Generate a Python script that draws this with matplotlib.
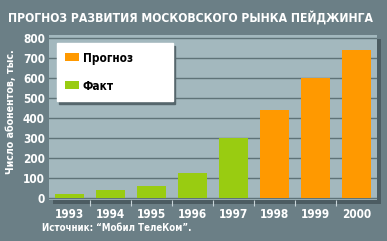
import matplotlib
matplotlib.use("Agg")
import matplotlib.pyplot as plt
from matplotlib.patches import Rectangle, Patch
from matplotlib import font_manager as fm
from matplotlib.ft2font import FT2Font

years = ["1993", "1994", "1995", "1996", "1997", "1998", "1999", "2000"]
values = [20, 40, 60, 125, 300, 440, 600, 740]
kinds = ["Факт", "Факт", "Факт", "Факт", "Факт", "Прогноз", "Прогноз", "Прогноз"]
yticks = [0, 100, 200, 300, 400, 500, 600, 700, 800]
title = "ПРОГНОЗ РАЗВИТИЯ МОСКОВСКОГО РЫНКА ПЕЙДЖИНГА"
ylabel = "Число абонентов, тыс."
source = "Источник: “Мобил ТелеКом”."

colors = {"Прогноз": "#ff9900", "Факт": "#99cc11"}
BG = "#6b7f86"
PLOT_BG = "#a3b8be"
GRID = "#5f7378"


def has_cyrillic(path):
    try:
        cm = FT2Font(path).get_charmap()
        return all(ord(c) in cm for c in "ЖПЙФ")
    except Exception:
        return False


# look for a narrow / condensed family with Cyrillic glyphs, if any is installed
narrow, stretch = "DejaVu Sans", "normal"
for f in fm.fontManager.ttflist:
    st = f.stretch
    cond = ("Narrow" in f.name or "Condensed" in f.name or
            str(st) in ("condensed", "semi-condensed", "extra-condensed", "ultra-condensed") or
            (isinstance(st, int) and st < 500))
    if cond and has_cyrillic(f.fname):
        narrow = f.name
        stretch = "condensed" if not ("Narrow" in f.name or "Condensed" in f.name) else "normal"
        break
FAM = [narrow, "DejaVu Sans"]

fig = plt.figure(figsize=(3.87, 2.41), dpi=100)
fig.patch.set_facecolor(BG)

W, H = 387, 241
x0, x1, ytop, ybot = 49, 377, 35, 200
ax = fig.add_axes([x0 / W, (H - ybot) / H, (x1 - x0) / W, (ybot - ytop) / H])
fig.patches.append(Rectangle(((x0 + 4) / W, (H - ybot - 4) / H), (x1 - x0) / W, (ybot - ytop) / H,
                             transform=fig.transFigure, facecolor="#4c5c62", edgecolor="none", zorder=-1))
ax.set_facecolor(PLOT_BG)

xs = range(len(years))
ax.bar(xs, values, width=0.73, color=[colors[k] for k in kinds], zorder=3)
ax.set_xlim(-0.5, len(years) - 0.5)
ax.set_ylim(-8, 817)
ax.set_yticks(yticks)
ax.set_yticklabels([str(v) for v in yticks], fontsize=8.5, color="white",
                   family=FAM, fontstretch=stretch, fontweight="bold")
ax.set_xticks(list(xs))
ax.set_xticklabels(years, fontsize=8.5, color="white", family=FAM,
                   fontstretch=stretch, fontweight="bold")
ax.tick_params(axis="y", length=0, pad=3)
ax.tick_params(axis="x", which="major", length=0, pad=6)
ax.set_xticks([i + 0.5 for i in range(len(years) - 1)], minor=True)
ax.tick_params(axis="x", which="minor", length=4, color="#c8d4d8", width=0.8)
ax.yaxis.grid(True, color=GRID, linewidth=1.0, zorder=1)
ax.set_axisbelow(True)
for s in ax.spines.values():
    s.set_visible(False)

t_ylab = fig.text(11 / W, 1 - 112 / H, ylabel, rotation=90, ha="center", va="center",
                  color="white", fontsize=8, family=FAM, fontstretch=stretch, fontweight="bold")
t_title = fig.text(190 / W, 1 - 18 / H, title, ha="center", va="center", color="white",
                   fontsize=13.5, family=FAM, fontstretch=stretch, fontweight="bold")
t_src = fig.text(42 / W, 1 - 228 / H, source, ha="left", va="center", color="white",
                 fontsize=8.5, family=FAM, fontstretch=stretch, fontweight="bold")

handles = [Patch(facecolor=colors["Прогноз"], label="Прогноз"),
           Patch(facecolor=colors["Факт"], label="Факт")]
leg = ax.legend(handles=handles, loc="upper left",
                bbox_to_anchor=(7.7 / 328, 1 - 8.3 / 165 - 0.1, 116 / 328, 0.1), mode="expand",
                frameon=True, fancybox=False, shadow={"color": "#55666c", "alpha": 1},
                facecolor="white", edgecolor="white", framealpha=1,
                prop={"family": FAM, "stretch": stretch, "weight": "bold", "size": 8.5},
                handlelength=1.2, handleheight=0.65, handletextpad=0.3,
                labelspacing=1.27, borderpad=0.7, borderaxespad=0)
leg.set_zorder(5)

# fit the wide texts to the sizes they take in the reference
renderer = fig.canvas.get_renderer()
for t, target, use_h in ((t_title, 366, False), (t_src, 148, False), (t_ylab, 126, True)):
    bb = t.get_window_extent(renderer)
    size = bb.height if use_h else bb.width
    t.set_fontsize(t.get_fontsize() * target / size)

fig.savefig("out.png", dpi=100, facecolor=BG)
